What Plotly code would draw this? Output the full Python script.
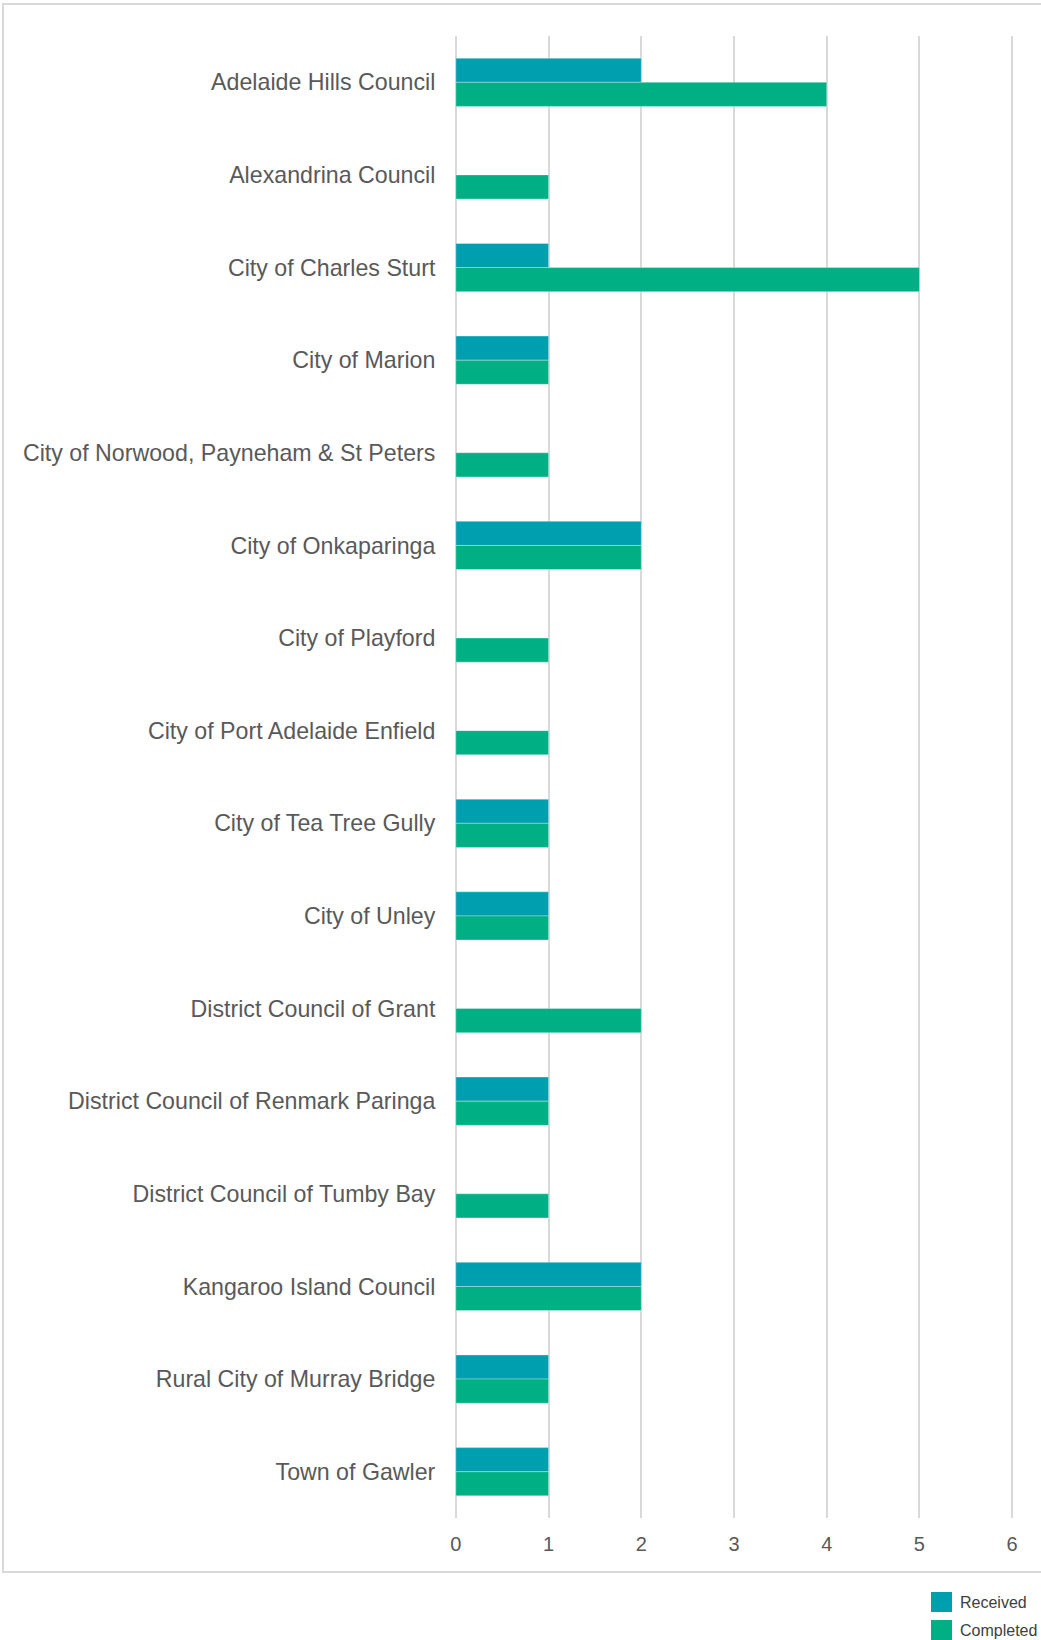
import plotly.graph_objects as go

councils = [
    "Adelaide Hills Council", "Alexandrina Council", "City of Charles Sturt",
    "City of Marion", "City of Norwood, Payneham & St Peters", "City of Onkaparinga",
    "City of Playford", "City of Port Adelaide Enfield", "City of Tea Tree Gully",
    "City of Unley", "District Council of Grant", "District Council of Renmark Paringa",
    "District Council of Tumby Bay", "Kangaroo Island Council",
    "Rural City of Murray Bridge", "Town of Gawler",
]
received = [2, None, 1, 1, None, 2, None, None, 1, 1, None, 1, None, 2, 1, 1]
completed = [4, 1, 5, 1, 1, 2, 1, 1, 1, 1, 2, 1, 1, 2, 1, 1]
series_names = ["Received", "Completed"]
series_colors = ["#009FB0", "#00B084"]
x_ticks = [0, 1, 2, 3, 4, 5, 6]

W, H = 1041, 1640
L, R, T, B = 454, 27, 36, 122
pw, ph = W - L - R, H - T - B

def px(x):
    return (x - L) / pw

def py(y):
    return (H - B - y) / ph

fig = go.Figure()
for name, vals, col in zip(series_names, [received, completed], series_colors):
    fig.add_trace(go.Bar(
        y=councils, x=vals, name=name, orientation="h",
        marker=dict(color=col, line=dict(color="rgba(255,255,255,0.3)", width=1)),
        showlegend=False,
    ))

shapes = [dict(type="rect", xref="paper", yref="paper",
               x0=px(3), x1=px(W + 10), y0=py(1572), y1=py(4),
               line=dict(color="#D9D9D9", width=2), fillcolor="rgba(0,0,0,0)", layer="below")]
annotations = []
for i, (name, col) in enumerate(zip(series_names, series_colors)):
    yc = 1602 + i * 28
    shapes.append(dict(type="rect", xref="paper", yref="paper",
                       x0=px(931), x1=px(952), y0=py(yc + 10), y1=py(yc - 10),
                       fillcolor=col, line=dict(width=0)))
    annotations.append(dict(xref="paper", yref="paper", x=px(958), y=py(yc),
                            text=name, showarrow=False, xanchor="left", yanchor="middle",
                            font=dict(size=16, color="#404040")))

fig.update_layout(
    width=W, height=H,
    margin=dict(l=L, r=R, t=T, b=B),
    paper_bgcolor="white", plot_bgcolor="white",
    barmode="group", bargap=0.48, bargroupgap=0,
    font=dict(family="Liberation Sans, Arial, sans-serif", color="#595959"),
    shapes=shapes, annotations=annotations,
    xaxis=dict(range=[-0.02, 6.02], tickvals=x_ticks, showgrid=True, gridcolor="#D9D9D9",
               gridwidth=2, zeroline=True, zerolinecolor="#D9D9D9", zerolinewidth=2,
               showline=False, tickfont=dict(size=20),
               ticks="outside", ticklen=8, tickcolor="rgba(0,0,0,0)"),
    yaxis=dict(autorange="reversed", showgrid=False, showline=False,
               ticks="outside", ticklen=13, tickcolor="rgba(0,0,0,0)",
               tickfont=dict(size=23.2)),
)
fig.write_html("out.html", post_script="document.body.style.margin='0';",
               config={"displayModeBar": False})
